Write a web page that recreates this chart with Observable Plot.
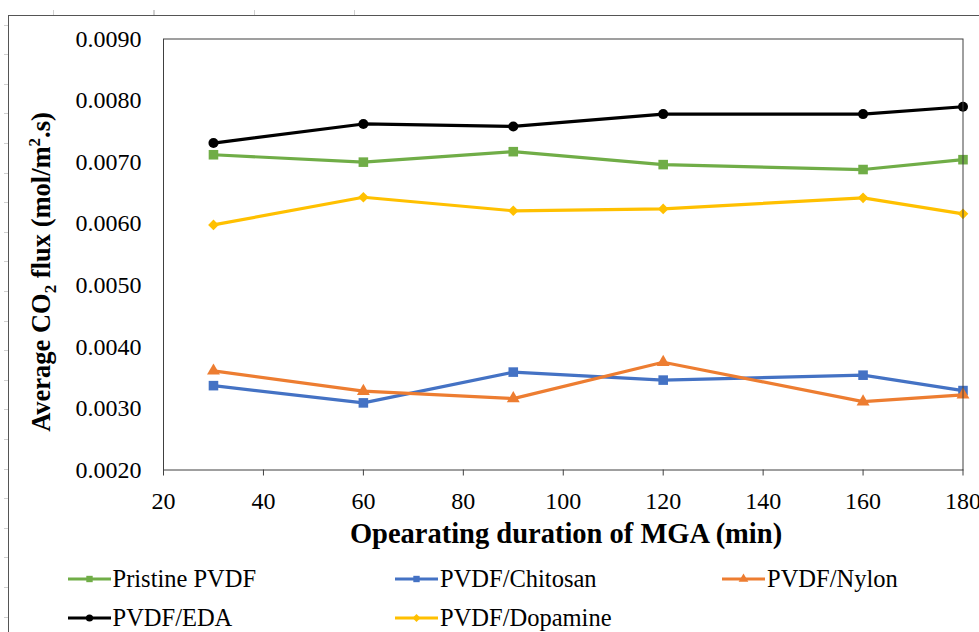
<!DOCTYPE html>
<html>
<head>
<meta charset="utf-8">
<script src="https://cdn.jsdelivr.net/npm/d3@7"></script>
<script src="https://cdn.jsdelivr.net/npm/@observablehq/plot@0.6"></script>
<style>
  html, body { margin: 0; padding: 0; background: #fff; }
  #wrap { position: relative; width: 979px; height: 632px; overflow: hidden; background: #fff; font-family: 'Liberation Serif', 'Times New Roman', serif; }
  #chart { position: absolute; left: 0; top: 0; }
  .outer { position: absolute; left: 8px; top: 15px; width: 971px; height: 617px; border-left: 1.5px solid #555; border-top: 1.5px solid #555; }
  .ticksTop { position: absolute; left: 0; top: 10px; width: 979px; height: 5px;
    background: repeating-linear-gradient(to right, transparent 0px, transparent 53.5px, #d0d0d0 53.5px, #d0d0d0 54.5px, transparent 54.5px, transparent 100px); }
  .ticksLeft { position: absolute; left: 4px; top: 0px; width: 4px; height: 632px;
    background: repeating-linear-gradient(to bottom, transparent 0px, transparent 24.5px, #d0d0d0 24.5px, #d0d0d0 25.5px, transparent 25.5px, transparent 29.6px); }
  .leg { position: absolute; display: flex; align-items: center; font-size: 24.5px; color: #000; white-space: nowrap; }
  .leg svg { margin-right: 2px; }
</style>
</head>
<body>
<div id="wrap">
  <div class="ticksTop"></div>
  <div class="ticksLeft"></div>
  <div class="outer"></div>
  <div id="chart"></div>
</div>
<script>
// ---- data ----
const minutes   = [30, 60, 90, 120, 160, 180];
const pristine  = [0.00712, 0.00700, 0.00717, 0.00696, 0.00688, 0.00704];
const chitosan  = [0.00337, 0.00309, 0.00359, 0.00346, 0.00354, 0.00329];
const nylon     = [0.00361, 0.00328, 0.00316, 0.00375, 0.00311, 0.00322];
const eda       = [0.00731, 0.00762, 0.00758, 0.00778, 0.00778, 0.00790];
const dopamine  = [0.00598, 0.00643, 0.00621, 0.00624, 0.00642, 0.00616];

const seriesNames = ["Pristine PVDF", "PVDF/Chitosan", "PVDF/Nylon", "PVDF/EDA", "PVDF/Dopamine"];
const seriesValues = [pristine, chitosan, nylon, eda, dopamine];
const seriesColors = ["#70AD47", "#4472C4", "#ED7D31", "#000000", "#FFC000"];
const seriesSymbols = ["square", "square", "triangle", "circle", "diamond2"];
const seriesRadius = [5.4, 5.4, 4.8, 5, 4.8];

const xTicks = [20, 40, 60, 80, 100, 120, 140, 160, 180];
const yTicks = [0.0020, 0.0030, 0.0040, 0.0050, 0.0060, 0.0070, 0.0080, 0.0090];
const xTitle = "Opearating duration of MGA (min)";

// long table built from the arrays
const rows = [];
seriesNames.forEach((name, s) => {
  minutes.forEach((m, i) => rows.push({series: name, minute: m, flux: seriesValues[s][i]}));
});

const marks = [];
seriesNames.forEach((name, s) => {
  const d = rows.filter(r => r.series === name);
  marks.push(Plot.line(d, {x: "minute", y: "flux", stroke: seriesColors[s], strokeWidth: 3.2}));
  marks.push(Plot.dot(d, {x: "minute", y: "flux", symbol: seriesSymbols[s], r: seriesRadius[s], fill: seriesColors[s], stroke: "none"}));
});

const FONT = "'Liberation Serif', 'Times New Roman', serif";

const plot = Plot.plot({
  width: 979,
  height: 560,
  marginLeft: 163,
  marginRight: 16.5,
  marginTop: 38.5,
  marginBottom: 90.5,
  style: {fontFamily: FONT, fontSize: "24px", color: "#000", background: "transparent", overflow: "visible"},
  x: {domain: [20, 180]},
  y: {domain: [0.002, 0.009]},
  marks: [
    Plot.axisX({ticks: xTicks, tickSize: 6, tickPadding: 16, fontSize: 24, label: null, stroke: "#404040"}),
    Plot.axisY({ticks: yTicks, tickSize: 0, tickPadding: 22, fontSize: 24, tickFormat: d3.format(".4f"), label: null}),
    ...marks,
    Plot.frame({stroke: "#404040", strokeWidth: 1})
  ]
});
document.getElementById("chart").appendChild(plot);

// axis titles with sub/superscripts
const svg = d3.select(plot);
svg.append("text")
  .attr("x", 566).attr("y", 543)
  .attr("text-anchor", "middle")
  .attr("font-family", FONT)
  .attr("font-weight", "bold").attr("font-size", 28.5).attr("fill", "#000")
  .text(xTitle);

const yl = svg.append("text")
  .attr("transform", "translate(50,272) rotate(-90)")
  .attr("text-anchor", "middle")
  .attr("font-family", FONT)
  .attr("font-weight", "bold").attr("font-size", 26.5).attr("fill", "#000");
yl.append("tspan").text("Average CO");
yl.append("tspan").attr("font-size", 17).attr("dy", 6).text("2");
yl.append("tspan").attr("dy", -6).text(" flux (mol/m");
yl.append("tspan").attr("font-size", 17).attr("dy", -10).text("2");
yl.append("tspan").attr("dy", 10).text(".s)");

// legend (below the plot)
const wrap = document.getElementById("wrap");
const legPos = [[67.5, 579], [395, 579], [722, 579], [67.5, 618], [395, 618]];
seriesNames.forEach((name, s) => {
  const div = document.createElement("div");
  div.className = "leg";
  div.style.left = legPos[s][0] + "px";
  div.style.top = (legPos[s][1] - 14) + "px";
  div.style.height = "28px";
  const ns = "http://www.w3.org/2000/svg";
  const sw = document.createElementNS(ns, "svg");
  sw.setAttribute("width", 43); sw.setAttribute("height", 28);
  const ln = document.createElementNS(ns, "line");
  ln.setAttribute("x1", 0); ln.setAttribute("x2", 43); ln.setAttribute("y1", 14); ln.setAttribute("y2", 14);
  ln.setAttribute("stroke", seriesColors[s]); ln.setAttribute("stroke-width", 3);
  sw.appendChild(ln);
  const symMap = {square: d3.symbolSquare, triangle: d3.symbolTriangle, circle: d3.symbolCircle, diamond2: d3.symbolDiamond2};
  const p = document.createElementNS(ns, "path");
  p.setAttribute("d", d3.symbol(symMap[seriesSymbols[s]], Math.PI * 3.6 * 3.6)());
  p.setAttribute("transform", "translate(21.5,14)");
  p.setAttribute("fill", seriesColors[s]);
  sw.appendChild(p);
  div.appendChild(sw);
  const sp = document.createElement("span");
  sp.textContent = name;
  div.appendChild(sp);
  wrap.appendChild(div);
});
</script>
</body>
</html>
